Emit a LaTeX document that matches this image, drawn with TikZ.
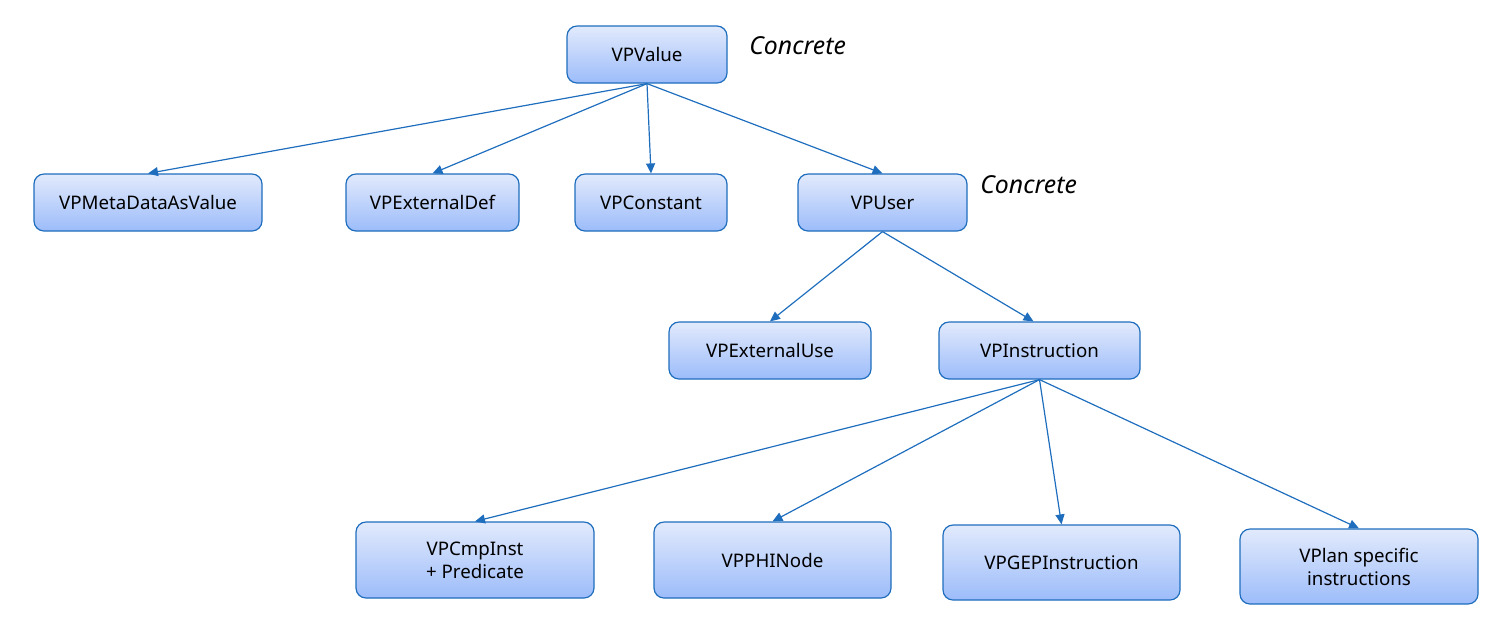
\documentclass[tikz,border=0pt]{standalone}
\usepackage{fontspec}
\setmainfont{Noto Sans}
\usetikzlibrary{arrows.meta}
\definecolor{edgeblue}{RGB}{31,110,190}
\definecolor{boxtop}{RGB}{226,234,252}
\definecolor{boxbot}{RGB}{156,188,250}
\tikzset{
  cls/.style={draw=edgeblue, line width=0.6pt, rounded corners=5pt,
    top color=boxtop, bottom color=boxbot, align=center,
    font=\fontsize{9.35}{11.5}\selectfont, inner sep=0pt, text=black},
  conn/.style={draw=edgeblue, line width=0.6pt, -{Triangle[length=5pt,width=4.5pt]}},
  note/.style={font=\fontsize{12.4}{14}\selectfont\itshape, anchor=west, inner sep=0pt}
}
\begin{document}
\begin{tikzpicture}[x=0.5pt,y=-0.5pt]
\useasboundingbox (0,0) rectangle (1503,629);
\node[cls, minimum width=80pt, minimum height=28.5pt] (value) at (647,54.5) {VPValue};
\node[note] (c1) at (749,46) {Concrete};
\node[cls, minimum width=114pt, minimum height=28.5pt] (meta) at (148,202.5) {VPMetaDataAsValue};
\node[cls, minimum width=86.5pt, minimum height=28.5pt] (extdef) at (432.5,202.5) {VPExternalDef};
\node[cls, minimum width=76pt, minimum height=28.5pt] (const) at (651,202.5) {VPConstant};
\node[cls, minimum width=84.5pt, minimum height=28.5pt] (user) at (882.5,202.5) {VPUser};
\node[note] (c2) at (980,185) {Concrete};
\node[cls, minimum width=101pt, minimum height=28.5pt] (extuse) at (770,350.5) {VPExternalUse};
\node[cls, minimum width=100.5pt, minimum height=28.5pt] (instr) at (1039.5,350.5) {VPInstruction};
\node[cls, minimum width=119pt, minimum height=38pt] (cmp) at (475,560) {VPCmpInst\\+ Predicate};
\node[cls, minimum width=118.5pt, minimum height=38pt] (phi) at (772.5,560) {VPPHINode};
\node[cls, minimum width=118.5pt, minimum height=37.5pt] (gep) at (1061.5,562.5) {VPGEPInstruction};
\node[cls, minimum width=119pt, minimum height=37.5pt] (spec) at (1359,566.5) {VPlan specific\\instructions};
\draw[conn] (value.south) -- (meta.north);
\draw[conn] (value.south) -- (extdef.north);
\draw[conn] (value.south) -- (const.north);
\draw[conn] (value.south) -- (user.north);
\draw[conn] (user.south) -- (extuse.north);
\draw[conn] (user.south) -- ([xshift=-3pt]instr.north);
\draw[conn] (instr.south) -- (cmp.north);
\draw[conn] (instr.south) -- (phi.north);
\draw[conn] (instr.south) -- (gep.north);
\draw[conn] (instr.south) -- (spec.north);
\end{tikzpicture}
\end{document}
